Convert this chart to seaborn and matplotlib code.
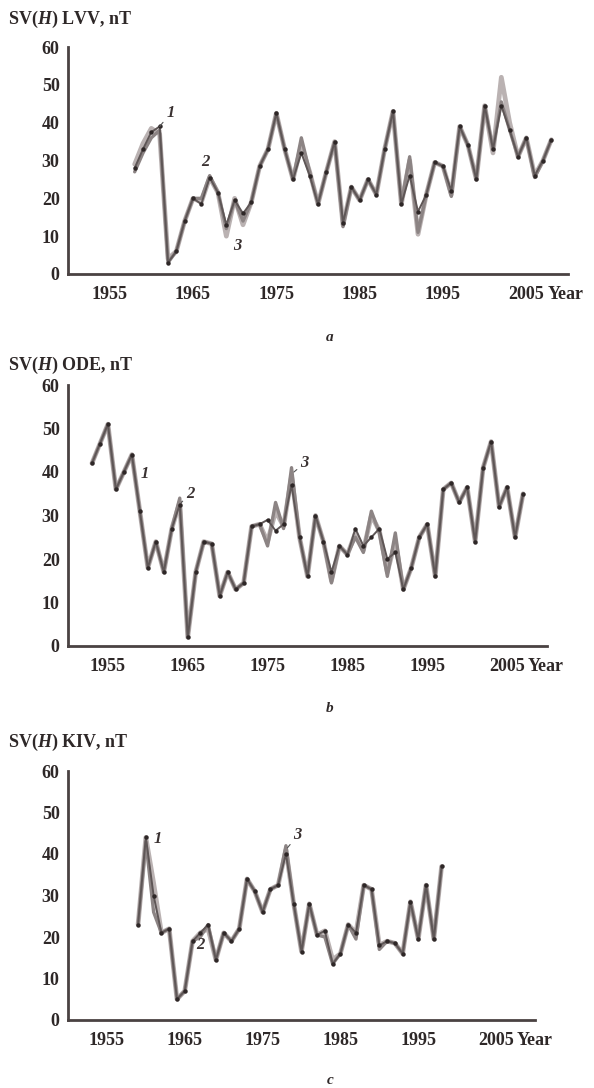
import numpy as np
import matplotlib as mpl
mpl.use('Agg')

import matplotlib.pyplot as plt
import seaborn as sns
import pandas as pd

# figure geometry (pixels of the 594x1088 picture)
W, H = 594, 1088
dpi = 100
font_size = 13

# ---- panel a: LVV ----
years_a = list(range(1958, 2009))
lvv_1 = [28, 33, 37.5, 39, 3, 6, 14, 20, 18.5, 25.5, 21.5, 13, 19.5, 16, 19, 28.5, 33, 42.5, 33, 25,
         32, 26, 18.5, 27, 35, 13.5, 23, 19.5, 25, 21, 33, 43, 18.5, 26, 16.5, 21, 29.5, 28.5, 22, 39,
         34, 25, 44.5, 33, 44.5, 38, 31, 36, 26, 30, 35.5]
lvv_2 = [27, 32, 36, 38, 3, 6, 14, 20, 20, 26, 21.5, 12, 19.5, 14, 19, 28.5, 33, 42.5, 33, 25,
         36, 27, 18.5, 27, 35, 12.5, 23, 19.5, 25, 21, 33, 43, 18.5, 31, 11, 21, 29.5, 28.5, 20.5, 39,
         34, 25, 44.5, 33, 45.5, 38, 31, 36, 25.5, 30, 35.5]
lvv_3 = [29, 34.5, 38.5, 37, 4, 6, 14, 20, 19, 25.5, 21.5, 10, 20, 13, 19, 28.5, 33, 42.5, 33, 25,
         34, 27, 18.5, 27, 35, 13, 23, 19.5, 25, 21, 33, 43, 18.5, 30, 10.5, 21, 29.5, 28.5, 21, 39,
         34, 25, 44.5, 32, 52, 40, 31, 36, 26, 30, 35.5]

# ---- panel b: ODE ----
years_b = list(range(1953, 2008))
ode_1 = [42, 46.5, 51, 36, 40, 44, 31, 18, 24, 17, 27, 32.5, 2, 17, 24, 23.5, 11.5, 17, 13, 14.5,
         27.5, 28, 29, 26.5, 28, 37, 25, 16, 30, 24, 17, 23, 21, 27, 23, 25, 27, 20, 21.5, 13,
         18, 25, 28, 16, 36, 37.5, 33, 36.5, 24, 41, 47, 32, 36.5, 25, 35]
ode_2 = [42, 46.5, 51, 36, 40, 44, 31, 18, 24, 17, 27, 34, 2, 17, 24, 23.5, 11.5, 17, 13, 14.5,
         27.5, 28, 23, 33, 27, 41, 25, 16, 30, 24, 14.5, 23, 21, 25, 21.5, 31, 26, 16, 26, 13,
         18, 25, 28, 16, 36, 37.5, 33, 36.5, 24, 41, 47, 32, 36.5, 25, 35]
ode_3 = [42, 46.5, 51, 36, 40, 44, 31, 18, 24, 17, 27, 33, 2, 17, 24, 23.5, 11.5, 17, 13, 14.5,
         27.5, 28, 24, 31, 27.5, 39, 25, 16, 30, 24, 15, 23, 21, 26, 22, 30, 26.5, 17, 24, 13,
         18, 25, 28, 16, 36, 37.5, 33, 36.5, 24, 41, 47, 32, 36.5, 25, 35]

# ---- panel c: KIV ----
years_c = list(range(1959, 1999))
kiv_1 = [23, 44, 30, 21, 22, 5, 7, 19, 21, 23, 14.5, 21, 19, 22, 34, 31, 26, 31.5, 32.5, 40,
         28, 16.5, 28, 20.5, 21.5, 13.5, 16, 23, 21, 32.5, 31.5, 18, 19, 18.5, 16, 28.5, 19.5, 32.5, 19.5, 37]
kiv_2 = [23, 43, 26, 21, 22, 5, 7, 19, 20, 23, 14.5, 21, 19, 22, 34, 31, 26, 31.5, 32.5, 42,
         28, 16.5, 28, 20.5, 20, 13.5, 16, 23, 19.5, 32.5, 31.5, 17, 19, 18.5, 16, 28.5, 19.5, 32.5, 19.5, 37]
kiv_3 = [23, 44, 33, 21, 22, 5, 7, 19, 21, 22, 14.5, 21, 19, 22, 34, 31, 26, 31.5, 32.5, 41,
         28, 16.5, 28, 20.5, 21.5, 14.5, 16, 23, 21, 32.5, 31.5, 18, 19, 18.5, 16, 28.5, 19.5, 32.5, 19.5, 37]

# curve labels: (text, label pos, point on curve)
labels_a = [('1', (1962.3, 42.5), (1961, 39)), ('2', (1966.5, 29.5), None), ('3', (1970.3, 7.5), None)]
labels_b = [('1', (1959.6, 39.5), None), ('2', (1965.3, 35), (1964.2, 33)), ('3', (1979.6, 42), (1978.3, 40))]
labels_c = [('1', (1961.6, 43.5), None), ('2', (1967.0, 18), None), ('3', (1979.5, 44.5), (1978.2, 41.5))]

line_1 = '#5e5656'
dots_1 = '#2e2727'
mid = '#8c8484'
light = '#bab2b2'
axis_col = '#4a4242'
text_col = '#2e2828'


def draw_panel(fig, rect_px, years, c1, c2, c3, title, title_y, letter, letter_y, labels):
    left, right, top, bottom = rect_px
    ax = fig.add_axes([left / W, 1 - bottom / H, (right - left) / W, (bottom - top) / H])
    df = pd.DataFrame({'Year': years, 'c1': c1, 'c2': c2, 'c3': c3})
    joins = dict(solid_joinstyle='round', solid_capstyle='round')
    sns.lineplot(data=df, x='Year', y='c3', ax=ax, color=light, lw=3.4, **joins)
    sns.lineplot(data=df, x='Year', y='c2', ax=ax, color=mid, lw=2.4, **joins)
    sns.lineplot(data=df, x='Year', y='c1', ax=ax, color=line_1, lw=1.4,
                 marker='o', markersize=3.2, markeredgewidth=0, markerfacecolor=dots_1, **joins)

    ax.set_xlim(1950, 2010)
    ax.set_ylim(0, 60)
    ax.set_xticks(range(1955, 2006, 10))
    ax.set_xticks(range(1960, 2011, 10), minor=True)
    ax.set_yticks(range(0, 61, 10))
    ax.set_xlabel('')
    ax.set_ylabel('')
    for s in ['top', 'right']:
        ax.spines[s].set_visible(False)
    for s in ['left', 'bottom']:
        ax.spines[s].set_color(axis_col)
        ax.spines[s].set_linewidth(2.0)
    ax.tick_params(axis='x', which='both', direction='inout', length=5, width=1.5,
                   color=axis_col, labelsize=font_size, labelcolor=text_col, pad=6)
    ax.tick_params(axis='y', direction='out', length=4, width=1.5,
                   color=axis_col, labelsize=font_size, labelcolor=text_col, pad=2)
    for t in ax.get_xticklabels() + ax.get_yticklabels():
        t.set_fontweight('bold')
    ax.patch.set_alpha(0)

    ax.annotate('Year', xy=(2005, 0), xycoords='data', xytext=(15, -8.5), textcoords='offset points',
                ha='left', va='top', fontsize=font_size, fontweight='bold', color=text_col,
                annotation_clip=False)

    for txt, pos, pt in labels:
        if pt is not None:
            ax.annotate(txt, xy=pt, xytext=pos, fontsize=12, fontstyle='italic', fontweight='bold',
                        color='#3a3232', ha='center', va='center',
                        arrowprops=dict(arrowstyle='-', color='#555', lw=0.8, shrinkB=0, shrinkA=4))
        else:
            ax.text(pos[0], pos[1], txt, fontsize=12, fontstyle='italic', fontweight='bold',
                    color='#3a3232', ha='center', va='center')

    fig.text(8 / W, 1 - title_y / H, title, ha='left', va='center', fontsize=font_size,
             fontweight='bold', color=text_col)
    fig.text(330 / W, 1 - letter_y / H, letter, ha='center', va='center', fontsize=11,
             fontstyle='italic', fontweight='bold', color=text_col)
    return ax


def main():
    sns.set_style("white")
    plt.rcParams['font.family'] = ['Liberation Serif', 'DejaVu Serif']
    plt.rcParams['font.weight'] = 'bold'
    plt.rcParams['mathtext.fontset'] = 'custom'
    plt.rcParams['mathtext.rm'] = 'Liberation Serif:bold'
    plt.rcParams['mathtext.it'] = 'Liberation Serif:italic:bold'

    fig = plt.figure(figsize=(W / dpi, H / dpi), dpi=dpi)
    fig.patch.set_facecolor('white')

    draw_panel(fig, (68, 568, 47, 274), years_a, lvv_1, lvv_2, lvv_3,
               r'SV($\mathit{H}$) LVV, nT', 19, 'a', 337, labels_a)
    draw_panel(fig, (68, 547, 385, 646), years_b, ode_1, ode_2, ode_3,
               r'SV($\mathit{H}$) ODE, nT', 365, 'b', 708, labels_b)
    draw_panel(fig, (68, 535, 771, 1020), years_c, kiv_1, kiv_2, kiv_3,
               r'SV($\mathit{H}$) KIV, nT', 742, 'c', 1080, labels_c)

    plt.savefig('out.png', format='png', dpi=dpi)
    plt.close()


if __name__ == "__main__":
    main()
